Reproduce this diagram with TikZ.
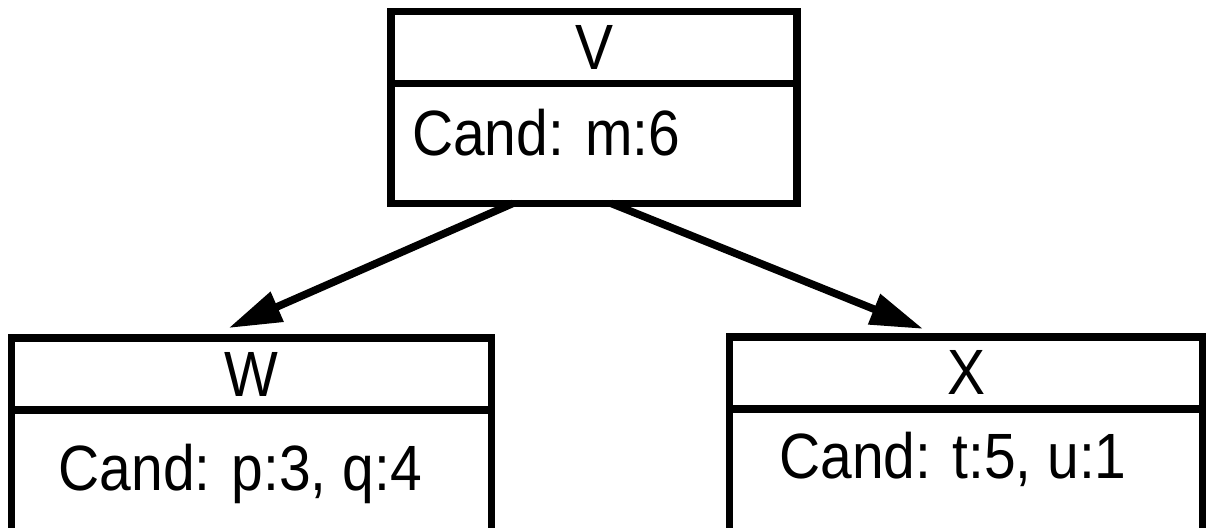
\documentclass[tikz,border=0pt]{standalone}
\usepackage{fontspec}
\setmainfont[FakeStretch=0.89]{Liberation Sans}
\usetikzlibrary{arrows.meta}
\usetikzlibrary{positioning, calc}

\begin{document}
\begin{tikzpicture}[x=0.5pt, y=-0.5pt,
    headbox/.style={draw, line width=3.75pt, outer sep=0pt, inner sep=0pt, minimum height=36pt, font=\fontsize{32pt}{36pt}\selectfont},
    bodybox/.style={draw, line width=3.75pt, outer sep=0pt, inner sep=0pt},
    candtext/.style={inner sep=0pt, outer sep=0pt, font=\fontsize{32pt}{36pt}\selectfont},
    link/.style={line width=3.8pt, -{Triangle[length=26.5pt, width=15.5pt]}}]
          \useasboundingbox (0,0) rectangle (1206,527);
          \clip (0,0) rectangle (1206,527); % Cuts off the lower boxes

          \node [headbox, minimum width=203pt] (Vhead) at (594,47.7) {V}; % Top class
          \node [bodybox, minimum width=203pt, minimum height=59.8pt, below=0pt of Vhead] (Vbody) {};
          \node [candtext, anchor=base west] (Vcand) at ([shift={(21,72)}]Vbody.north west) {Cand: m:6};

          \node [headbox, minimum width=240pt] (Whead) at (251.7,374) {W}; % Left class
          \node [bodybox, minimum width=240pt, minimum height=75pt, below=0pt of Whead] (Wbody) {};
          \node [candtext, anchor=base west] (Wcand) at ([shift={(47,80.5)}]Wbody.north west) {Cand: p:3, q:4};

          \node [headbox, minimum width=236.85pt] (Xhead) at (966.2,372.9) {X}; % Right class
          \node [bodybox, minimum width=236.85pt, minimum height=75pt, below=0pt of Xhead] (Xbody) {};
          \node [candtext, anchor=base west] (Xcand) at ([shift={(50,69.2)}]Xbody.north west) {Cand: t:5, u:1};

          \draw [link] ([shift={(-81,0)}]Vbody.south) -- ([shift={(-23,-10)}]Whead.north);
          \draw [link] ([shift={(17,0)}]Vbody.south) -- ([shift={(-43,-8)}]Xhead.north);
        \end{tikzpicture}
\end{document}
